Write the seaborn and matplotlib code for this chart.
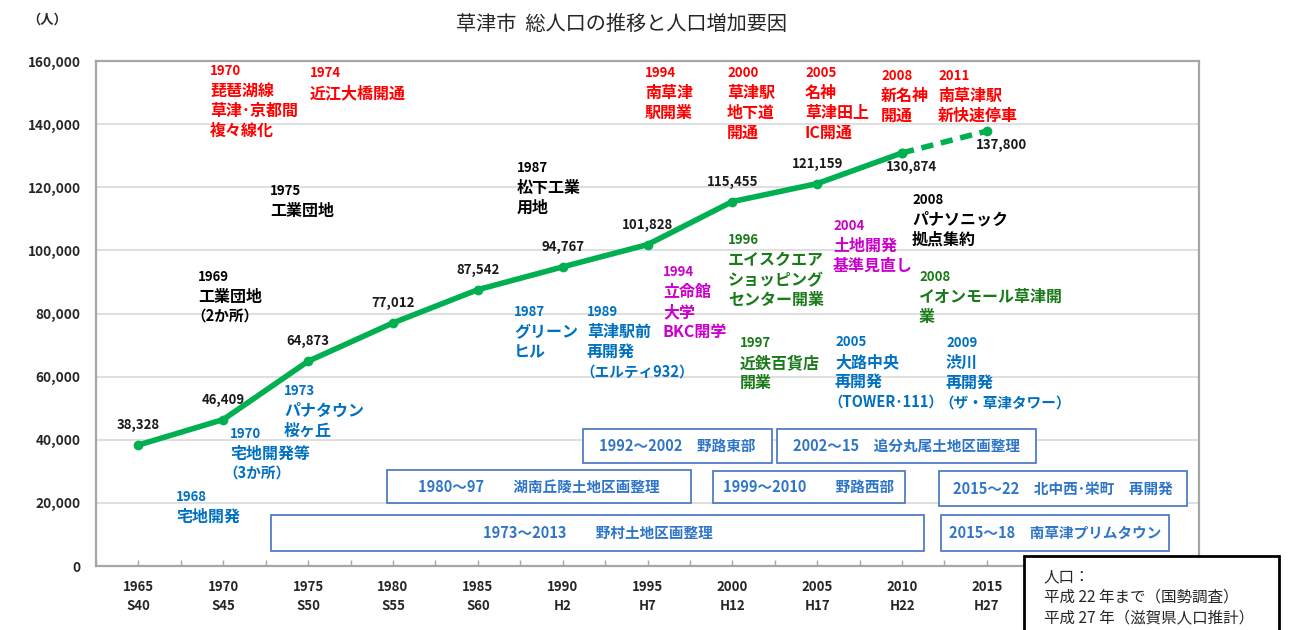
#!/usr/bin/env python3

# Import dependencies
import matplotlib
matplotlib.use("Agg")
import matplotlib.pyplot as plt
import matplotlib.patches as mpatches
import pandas as pd
import seaborn as sns

# Data
years = [1965, 1970, 1975, 1980, 1985, 1990, 1995, 2000, 2005, 2010, 2015]
era = ["S40", "S45", "S50", "S55", "S60", "H2", "H7", "H12", "H17", "H22", "H27"]
population = [38328, 46409, 64873, 77012, 87542, 94767, 101828, 115455, 121159, 130874, 137800]
n_census = 10  # up to 2010 census, 2015 is an estimate

title = "草津市  総人口の推移と人口増加要因"
unit = "（人）"

# event notes: first line is the year
red_notes = [
    ["1970", "琵琶湖線", "草津･京都間", "複々線化"],
    ["1974", "近江大橋開通"],
    ["1994", "南草津", "駅開業"],
    ["2000", "草津駅", "地下道", "開通"],
    ["2005", "名神", "草津田上", "IC開通"],
    ["2008", "新名神", "開通"],
    ["2011", "南草津駅", "新快速停車"],
]
black_notes = [
    ["1975", "工業団地"],
    ["1969", "工業団地", "（2か所）"],
    ["1987", "松下工業", "用地"],
    ["2008", "パナソニック", "拠点集約"],
]
blue_notes = [
    ["1968", "宅地開発"],
    ["1970", "宅地開発等", "（3か所）"],
    ["1973", "パナタウン", "桜ヶ丘"],
    ["1987", "グリーン", "ヒル"],
    ["1989", "草津駅前", "再開発", "（エルティ932）"],
    ["2005", "大路中央", "再開発", "（TOWER･111）"],
    ["2009", "渋川", "再開発", "（ザ・草津タワー）"],
]
magenta_notes = [
    ["1994", "立命館", "大学", "BKC開学"],
    ["2004", "土地開発", "基準見直し"],
]
green_notes = [
    ["1996", "エイスクエア", "ショッピング", "センター開業"],
    ["1997", "近鉄百貨店", "開業"],
    ["2008", "イオンモール草津開", "業"],
]
projects = [
    "1992～2002　野路東部",
    "2002～15　追分丸尾土地区画整理",
    "1980～97　　湖南丘陵土地区画整理",
    "1999～2010　　野路西部",
    "2015～22　北中西･栄町　再開発",
    "1973～2013　　野村土地区画整理",
    "2015～18　南草津プリムタウン",
]
source_note = ["人口：", "平成 22 年まで（国勢調査）", "平成 27 年（滋賀県人口推計）"]

# Layout (pixels in the 1293x630 picture)
W, H = 1293, 630
red_pos = [(210, 71), (310, 73), (645, 73), (727, 73), (805, 73), (881, 76), (938, 76)]
black_pos = [(270, 191), (198, 277), (517, 168), (912, 200)]
blue_pos = [(176, 497), (230, 434), (284, 391), (514, 312), (587, 312), (835, 342), (946, 343)]
magenta_pos = [(663, 272), (833, 226)]
green_pos = [(728, 240), (740, 343), (919, 277)]
box_pos = [(583, 429, 772, 463), (777, 429, 1036, 463), (387, 470, 691, 503),
           (713, 471, 905, 503), (939, 471, 1187, 506), (271, 515, 924, 551),
           (941, 515, 1169, 551)]
label_offsets = [(0, 20)] * 9 + [(9, -14), (15, -14)]

GREEN = "#00B050"

sns.set_theme(style="white")
plt.rcParams['font.family'] = ['Noto Sans CJK JP', 'DejaVu Sans']


def px(x, y):
    return x / W, 1 - y / H


def note(fig, x, y, lines, color, step=20):
    for i, s in enumerate(lines):
        size = 9.5 if i == 0 else 11.5
        x0 = x
        if s.startswith("（"):
            # full-width bracket carries its own blank half
            x0 = x - 7
            size = 10.5
        fig.text(*px(x0, y + i * step), s, color=color, fontsize=size,
                 fontweight='bold', ha='left', va='center')


def main():
    df = pd.DataFrame({"year": years, "population": population})
    census = df.iloc[:n_census]
    estimate = df.iloc[n_census - 1:]

    fig = plt.figure(figsize=(W / 100, H / 100), dpi=100)
    ax = fig.add_axes([96 / W, 64 / H, (1199 - 96) / W, (566 - 61) / H])

    sns.lineplot(data=census, x="year", y="population", ax=ax, color=GREEN,
                 lw=4, marker='o', markersize=7, markeredgewidth=0, zorder=5)
    sns.lineplot(data=estimate, x="year", y="population", ax=ax, color=GREEN,
                 lw=4, linestyle=(0, (2.2, 1.4)), marker='o', markersize=7,
                 markeredgewidth=0, zorder=5)

    for (yr, val), (dx, dy) in zip(zip(years, population), label_offsets):
        ax.annotate(f"{val:,}", (yr, val), xytext=(dx, dy), textcoords='offset pixels',
                    ha='center', va='center', fontsize=9.5, fontweight='bold',
                    color="#1a1a1a", zorder=6)

    ax.set_xlim(1962.5, 2027.5)
    ax.set_ylim(0, 160000)
    ax.set_yticks(range(0, 160001, 20000))
    ax.set_yticklabels([f"{v:,}" for v in range(0, 160001, 20000)],
                       fontsize=9.8, fontweight='bold')
    ax.set_xticks(years)
    ax.set_xticklabels([f"{y}\n{e}" for y, e in zip(years, era)],
                       fontsize=9.5, fontweight='bold', linespacing=1.45)
    ax.set_xticks([y + 2.5 for y in years[:-1]] + [1962.5, 2017.5, 2022.5], minor=True)
    ax.tick_params(axis='y', length=0, pad=11)
    ax.tick_params(axis='x', which='both', direction='in', length=4, width=1,
                   color="#A6A6A6", pad=10, bottom=True)
    ax.set_xlabel("")
    ax.set_ylabel("")
    ax.grid(axis='y', color="#D9D9D9", lw=1.2)
    for side, sp in ax.spines.items():
        sp.set_color("#A6A6A6")
        sp.set_linewidth(1.6)

    fig.text(*px(622, 24), title, fontsize=14.5, ha='center', va='center')
    fig.text(*px(27, 20), unit, fontsize=9.5, fontweight='bold', ha='left', va='center')

    for lines, (x, y) in zip(red_notes, red_pos):
        note(fig, x, y, lines, "#FF0000")
    for lines, (x, y) in zip(black_notes, black_pos):
        note(fig, x, y, lines, "#000000")
    for lines, (x, y) in zip(blue_notes, blue_pos):
        note(fig, x, y, lines, "#0070C0")
    for lines, (x, y) in zip(magenta_notes, magenta_pos):
        note(fig, x, y, lines, "#CC00CC")
    for lines, (x, y) in zip(green_notes, green_pos):
        note(fig, x, y, lines, "#1A7A1A")

    for s, (x0, y0, x1, y1) in zip(projects, box_pos):
        fx0, fy1 = px(x0, y1)
        fx1, fy0 = px(x1, y0)
        fig.patches.append(mpatches.Rectangle((fx0, fy1), fx1 - fx0, fy0 - fy1,
                           transform=fig.transFigure, facecolor="white",
                           edgecolor="#4472C4", lw=1.2, zorder=7))
        fig.text((fx0 + fx1) / 2, (fy0 + fy1) / 2, s, color="#2F75C8", fontsize=10.5,
                 fontweight='bold', ha='center', va='center', zorder=8)

    # source box, runs off the bottom edge
    fx0, fy1 = px(1024, 645)
    fx1, fy0 = px(1279, 556)
    fig.patches.append(mpatches.Rectangle((fx0, fy1), fx1 - fx0, fy0 - fy1,
                       transform=fig.transFigure, facecolor="white",
                       edgecolor="black", lw=2, zorder=9))
    for i, s in enumerate(source_note):
        fig.text(*px(1044, 577 + i * 20.5), s, fontsize=11.2, ha='left',
                 va='center', zorder=10)

    plt.savefig("out.png", dpi=100)


if __name__ == '__main__':
    main()
